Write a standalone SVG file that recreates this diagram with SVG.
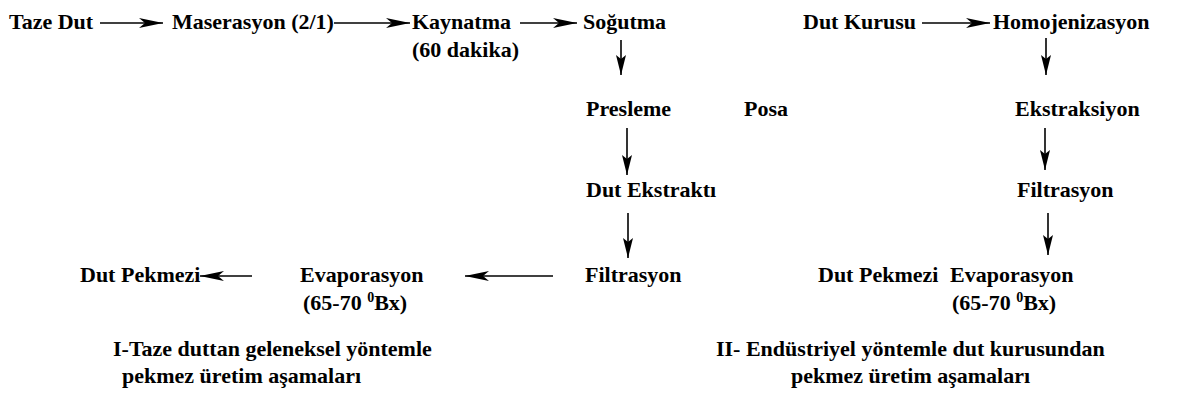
<svg xmlns="http://www.w3.org/2000/svg" width="1181" height="413" viewBox="0 0 1181 413">
<style>
text{font-family:'Liberation Serif','Times New Roman',serif;font-weight:bold;font-size:22px;fill:#000}
.sup{font-size:14px}
.ln{stroke:#000;stroke-width:1.6;fill:none}
</style>
<defs>
<marker id="ah" markerUnits="userSpaceOnUse" markerWidth="26" markerHeight="12" refX="24" refY="5" orient="auto">
<path d="M0,0 L24,5 L0,10 L6,5 z" fill="#000"/>
</marker>
<marker id="av" markerUnits="userSpaceOnUse" markerWidth="22" markerHeight="12" refX="20" refY="5" orient="auto">
<path d="M0,0 L20,5 L0,10 L4,5 z" fill="#000"/>
</marker>
</defs>
<rect width="1181" height="413" fill="#fff"/>
<g id="connectors">
<line class="ln" x1="100" y1="23" x2="163" y2="23" marker-end="url(#ah)"/>
<line class="ln" x1="334" y1="23" x2="410" y2="23" marker-end="url(#ah)"/>
<line class="ln" x1="520" y1="23" x2="577" y2="23" marker-end="url(#ah)"/>
<line class="ln" x1="621" y1="40" x2="621" y2="75" marker-end="url(#av)"/>
<line class="ln" x1="627" y1="128" x2="627" y2="175" marker-end="url(#av)"/>
<line class="ln" x1="628" y1="213" x2="628" y2="258" marker-end="url(#av)"/>
<line class="ln" x1="553" y1="276" x2="465" y2="276" marker-end="url(#ah)"/>
<line class="ln" x1="252" y1="276" x2="200" y2="276" marker-end="url(#ah)"/>
<line class="ln" x1="922" y1="23" x2="990" y2="23" marker-end="url(#ah)"/>
<line class="ln" x1="1046" y1="38" x2="1046" y2="75" marker-end="url(#av)"/>
<line class="ln" x1="1045" y1="128" x2="1045" y2="170" marker-end="url(#av)"/>
<line class="ln" x1="1048" y1="213" x2="1048" y2="255" marker-end="url(#av)"/>
</g>
<g id="taze-dut"><text x="9" y="29">Taze Dut</text></g>
<g id="maserasyon"><text x="172" y="29">Maserasyon (2/1)</text></g>
<g id="kaynatma"><text x="412" y="29">Kaynatma</text><text x="412" y="57">(60 dakika)</text></g>
<g id="sogutma"><text x="583" y="29">Soğutma</text></g>
<g id="presleme"><text x="586" y="116">Presleme</text></g>
<g id="posa"><text x="744" y="116">Posa</text></g>
<g id="dut-ekstrakti"><text x="586" y="197">Dut Ekstraktı</text></g>
<g id="filtrasyon-1"><text x="585" y="282">Filtrasyon</text></g>
<g id="evaporasyon-1"><text x="300" y="282">Evaporasyon</text><text x="303" y="310">(65-70 <tspan class="sup" dy="-8">0</tspan><tspan dy="8">Bx)</tspan></text></g>
<g id="dut-pekmezi-1"><text x="80" y="282">Dut Pekmezi</text></g>
<g id="caption-1"><text x="113" y="356">I-Taze duttan geleneksel yöntemle</text><text x="122" y="383">pekmez üretim aşamaları</text></g>
<g id="dut-kurusu"><text x="803" y="29">Dut Kurusu</text></g>
<g id="homojenizasyon"><text x="993" y="29">Homojenizasyon</text></g>
<g id="ekstraksiyon"><text x="1015" y="116">Ekstraksiyon</text></g>
<g id="filtrasyon-2"><text x="1017" y="197">Filtrasyon</text></g>
<g id="evaporasyon-2"><text x="950" y="282">Evaporasyon</text><text x="952" y="310">(65-70 <tspan class="sup" dy="-8">0</tspan><tspan dy="8">Bx)</tspan></text></g>
<g id="dut-pekmezi-2"><text x="818" y="282">Dut Pekmezi</text></g>
<g id="caption-2"><text x="716" y="356">II- Endüstriyel yöntemle dut kurusundan</text><text x="791" y="383">pekmez üretim aşamaları</text></g>
</svg>
